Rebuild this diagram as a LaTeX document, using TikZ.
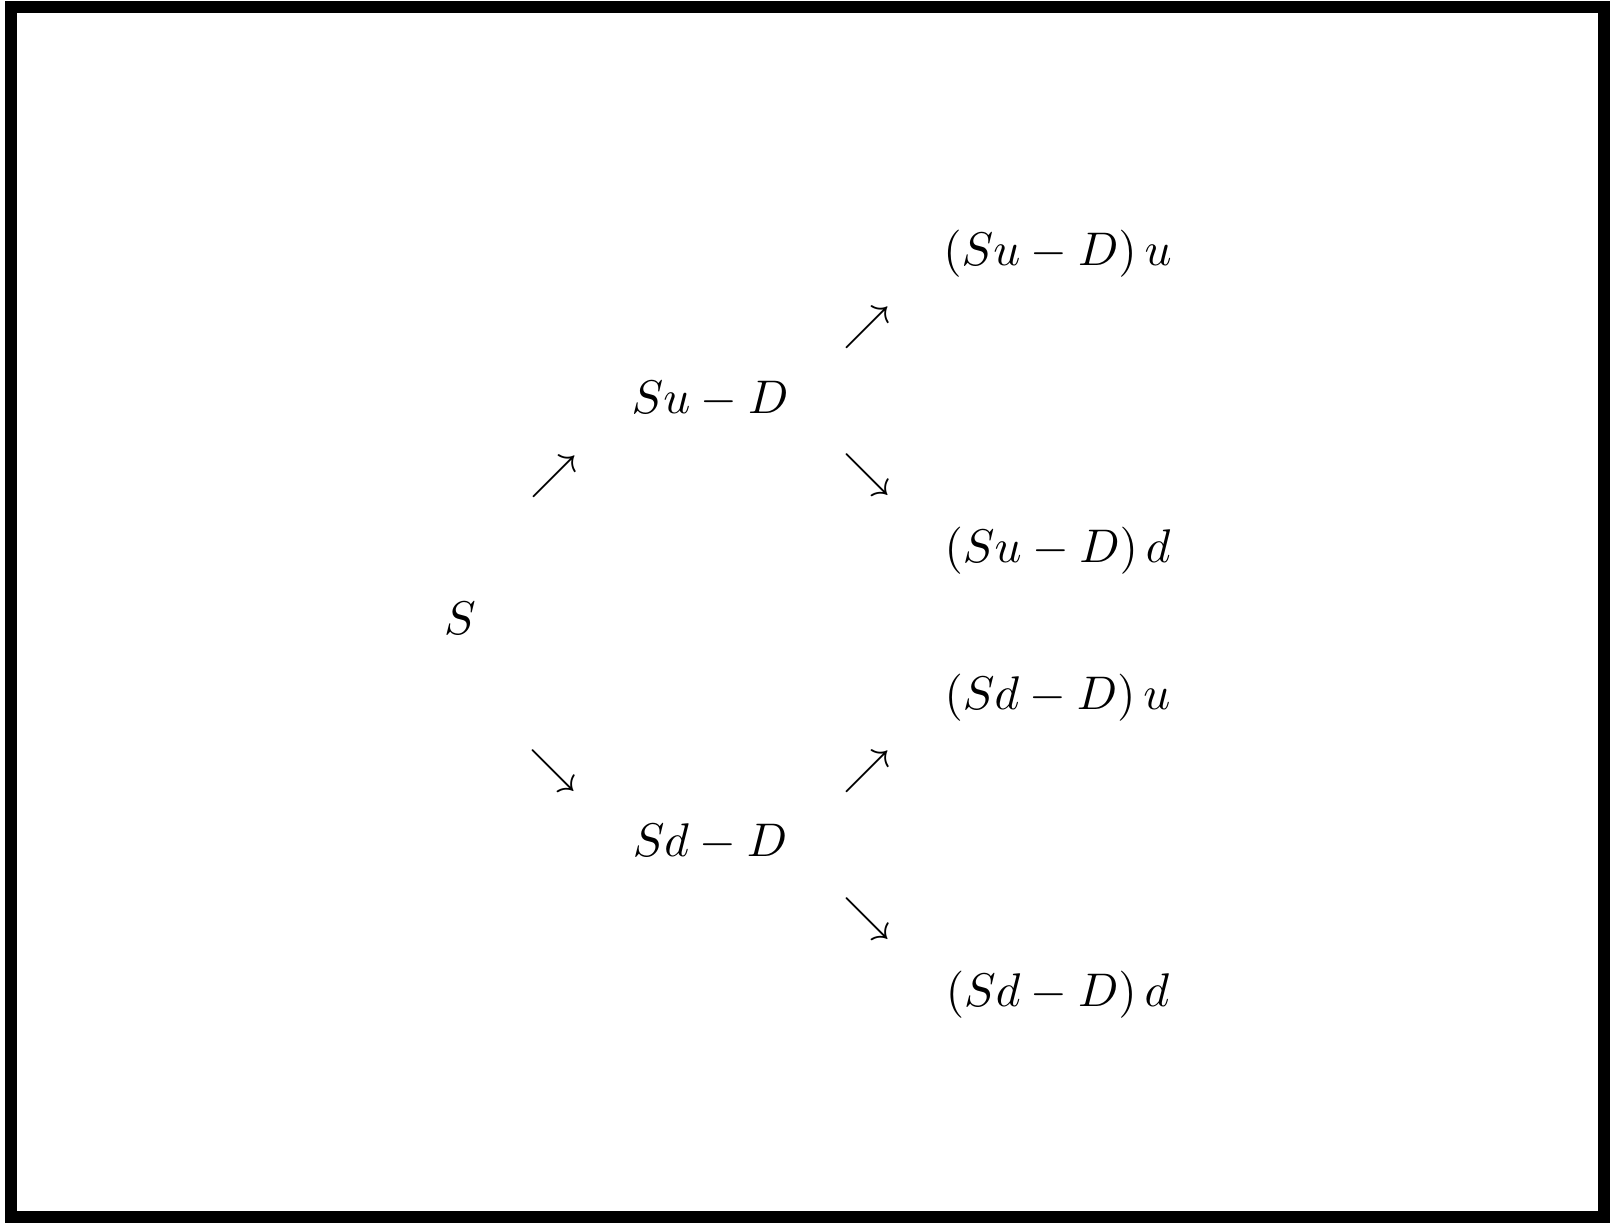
\documentclass[tikz,border=0pt]{standalone}

\begin{document}
\begin{tikzpicture}[
  x=1.02mm,
  y=-1.02mm,
  frame/.style={draw=black,line width=2.55pt},
  term/.style={inner sep=0pt,anchor=base},
  branch/.style={inner sep=0pt,anchor=center}
]
  % Match the original artwork frame.
  \useasboundingbox (0,0) rectangle (117.603,89.425);
  \draw[frame] (0.803,0.511) rectangle (117.092,88.841);

  % Root price.
  \node[term] (root) at (33.580,46.282) {$S$};

  % First step: up and down values.
  \node[term] (up) at (51.830,30.149) {$Su-D$};
  \node[term] (down) at (51.830,62.488) {$Sd-D$};

  % Second step: the four outcomes.
  \node[term] (upup) at (77.198,19.413) {$(Su-D)\,u$};
  \node[term] (updown) at (77.198,41.026) {$(Su-D)\,d$};
  \node[term] (downup) at (77.198,51.825) {$(Sd-D)\,u$};
  \node[term] (downdown) at (77.198,73.506) {$(Sd-D)\,d$};

  % Branch arrows set as math glyphs between the columns.
  \node[branch] (rootUp) at (40.442,34.821) {$\nearrow$};
  \node[branch] (rootDown) at (40.406,56.283) {$\searrow$};
  \node[branch] (upUp) at (63.291,23.908) {$\nearrow$};
  \node[branch] (upDown) at (63.291,34.639) {$\searrow$};
  \node[branch] (downUp) at (63.291,56.356) {$\nearrow$};
  \node[branch] (downDown) at (63.291,67.051) {$\searrow$};
\end{tikzpicture}
\end{document}
